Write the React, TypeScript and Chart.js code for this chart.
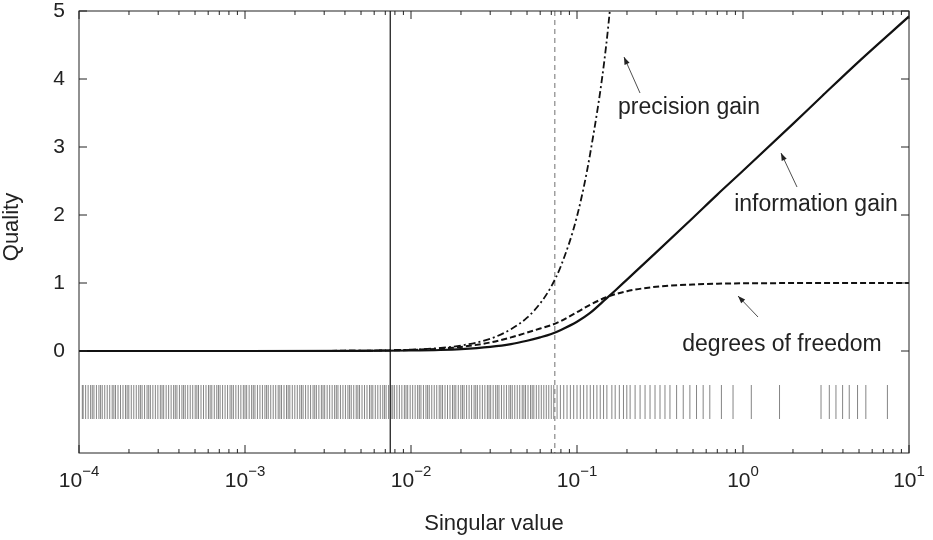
import React, { useEffect, useRef } from "react";
import { Chart, registerables } from "chart.js";
Chart.register(...registerables);

const sValues = [0.0001, 0.001, 0.005, 0.01, 0.015, 0.02, 0.03, 0.04, 0.05, 0.06, 0.07, 0.08, 0.1, 0.12, 0.15, 0.17, 0.2, 0.3, 0.5, 0.7, 1, 2, 3, 5, 10];
const infoGain = [0, 0, 0.002, 0.007, 0.015, 0.027, 0.06, 0.1, 0.15, 0.2, 0.25, 0.31, 0.43, 0.56, 0.77, 0.89, 1.05, 1.45, 1.96, 2.3, 2.65, 3.34, 3.75, 4.26, 4.92];
const dof = [0, 0.0002, 0.004, 0.016, 0.035, 0.06, 0.125, 0.2, 0.27, 0.33, 0.38, 0.44, 0.57, 0.68, 0.79, 0.835, 0.88, 0.945, 0.978, 0.99, 0.995, 0.999, 1, 1, 1];
const precisionGain = [0, 0.0002, 0.005, 0.02, 0.045, 0.08, 0.18, 0.32, 0.49, 0.7, 0.95, 1.25, 1.98, 2.9, 4.5, 5.9, 8.1];
const rugExponents = [
  -3.98, -3.96, -3.93, -3.91, -3.88, -3.86, -3.83, -3.8, -3.78, -3.75, -3.72, -3.7, -3.67, -3.64, -3.62, -3.59, -3.57, -3.54, -3.51, -3.49,
  -3.46, -3.43, -3.41, -3.38, -3.36, -3.33, -3.3, -3.28, -3.25, -3.22, -3.2, -3.17, -3.15, -3.12, -3.09, -3.07, -3.04, -3.01, -2.99, -2.96,
  -2.94, -2.91, -2.88, -2.86, -2.83, -2.8, -2.78, -2.75, -2.73, -2.7, -2.67, -2.65, -2.62, -2.59, -2.57, -2.54, -2.52, -2.49, -2.46, -2.44,
  -2.41, -2.38, -2.36, -2.33, -2.31, -2.28, -2.25, -2.23, -2.2, -2.17, -2.15, -2.12, -2.1, -2.07, -2.04, -2.02, -1.99, -1.96, -1.94, -1.91,
  -1.89, -1.86, -1.83, -1.81, -1.78, -1.75, -1.73, -1.7, -1.68, -1.65, -1.62, -1.6, -1.57, -1.54, -1.52, -1.49, -1.47, -1.44, -1.41, -1.39,
  -1.36, -1.33, -1.31, -1.28, -1.26, -1.23, -1.2, -1.17, -1.14, -1.1, -1.06, -1.02, -0.98, -0.94, -0.9, -0.86, -0.82, -0.77, -0.72, -0.68,
  -0.62, -0.56, -0.5, -0.44, -0.36, -0.28, -0.2, -0.06, 0.05, 0.22, 0.47, 0.52, 0.56, 0.6, 0.64, 0.69, 0.74, 0.87,
];
const rugExponentsExtra = [
  -3.975, -3.945, -3.92, -3.895, -3.87, -3.845, -3.815, -3.79, -3.765, -3.735, -3.71, -3.685, -3.655, -3.63, -3.605, -3.58, -3.555, -3.525, -3.5, -3.475,
  -3.445, -3.42, -3.395, -3.37, -3.345, -3.315, -3.29, -3.265, -3.235, -3.21, -3.185, -3.16, -3.135, -3.105, -3.08, -3.055, -3.025, -3.0, -2.975, -2.95,
  -2.925, -2.895, -2.87, -2.845, -2.815, -2.79, -2.765, -2.74, -2.715, -2.685, -2.66, -2.635, -2.605, -2.58, -2.555, -2.53, -2.505, -2.475, -2.45, -2.425,
  -2.395, -2.37, -2.345, -2.32, -2.295, -2.265, -2.24, -2.215, -2.185, -2.16, -2.135, -2.11, -2.085, -2.055, -2.03, -2.005, -1.975, -1.95, -1.925, -1.9,
  -1.875, -1.845, -1.82, -1.795, -1.765, -1.74, -1.715, -1.69, -1.665, -1.635, -1.61, -1.585, -1.555, -1.53, -1.505, -1.48, -1.455, -1.425, -1.4, -1.375,
  -1.345, -1.32, -1.295, -1.27, -1.245, -1.215, -1.185, -1.155, -1.12, -1.08, -1.04, -1.0, -0.96, -0.92, -0.88, -0.84, -0.79, -0.745, -0.7, -0.65,
  -0.59, -0.53, -0.47, -0.4, -0.32, -0.24, -0.13,
];
const yTicks = [0, 1, 2, 3, 4, 5];
const xDecades = [-4, -3, -2, -1, 0, 1];
const solidLineX = 0.0075;
const dashedLineX = 0.0735;

export default function App() {
  const ref = useRef<HTMLCanvasElement>(null);
  useEffect(() => {
    const font = "'Liberation Sans', Arial, sans-serif";
    const overlay = {
      id: "overlay",
      beforeDatasetsDraw(chart: any) {
        const { ctx, scales } = chart;
        const xs = scales.x, ys = scales.y;
        ctx.save();
        ctx.strokeStyle = "#666";
        ctx.lineWidth = 0.8;
        const y1 = ys.getPixelForValue(-0.5), y2 = ys.getPixelForValue(-1.0);
        for (const e of [...rugExponents, ...rugExponentsExtra]) {
          const px = xs.getPixelForValue(Math.pow(10, e));
          ctx.beginPath(); ctx.moveTo(px, y1); ctx.lineTo(px, y2); ctx.stroke();
        }
        const top = ys.getPixelForValue(5), bot = ys.getPixelForValue(-1.5);
        ctx.strokeStyle = "#222"; ctx.lineWidth = 1.3;
        let px = xs.getPixelForValue(solidLineX);
        ctx.beginPath(); ctx.moveTo(px, top); ctx.lineTo(px, bot); ctx.stroke();
        ctx.strokeStyle = "#888"; ctx.lineWidth = 1.2; ctx.setLineDash([5, 4]);
        px = xs.getPixelForValue(dashedLineX);
        ctx.beginPath(); ctx.moveTo(px, top); ctx.lineTo(px, bot); ctx.stroke();
        ctx.restore();
      },
      afterDatasetsDraw(chart: any) {
        const { ctx, scales, chartArea: a } = chart;
        const xs = scales.x, ys = scales.y;
        ctx.save();
        ctx.strokeStyle = "#222"; ctx.lineWidth = 1;
        ctx.strokeRect(a.left, a.top, a.right - a.left, a.bottom - a.top);
        ctx.fillStyle = "#222";
        ctx.font = `21px ${font}`;
        ctx.textAlign = "right"; ctx.textBaseline = "middle";
        for (const t of yTicks) {
          const py = ys.getPixelForValue(t);
          ctx.beginPath(); ctx.moveTo(a.left, py); ctx.lineTo(a.left + 8, py);
          ctx.moveTo(a.right, py); ctx.lineTo(a.right - 8, py); ctx.stroke();
          ctx.fillText(String(t), a.left - 14, py);
        }
        for (const d of xDecades) {
          const px = xs.getPixelForValue(Math.pow(10, d));
          ctx.beginPath(); ctx.moveTo(px, a.bottom); ctx.lineTo(px, a.bottom - 8);
          ctx.moveTo(px, a.top); ctx.lineTo(px, a.top + 8); ctx.stroke();
          if (d < 1) {
            for (let m = 2; m < 10; m++) {
              const mx = xs.getPixelForValue(m * Math.pow(10, d));
              ctx.beginPath(); ctx.moveTo(mx, a.bottom); ctx.lineTo(mx, a.bottom - 4);
              ctx.moveTo(mx, a.top); ctx.lineTo(mx, a.top + 4); ctx.stroke();
            }
          }
          ctx.font = `21px ${font}`;
          const base = "10";
          const sup = d < 0 ? "\u2212" + Math.abs(d) : String(d);
          const bw = ctx.measureText(base).width;
          ctx.font = `15px ${font}`;
          const sw = ctx.measureText(sup).width;
          const start = px - (bw + sw) / 2;
          ctx.textAlign = "left"; ctx.textBaseline = "alphabetic";
          ctx.font = `21px ${font}`;
          ctx.fillText(base, start, a.bottom + 34);
          ctx.font = `15px ${font}`;
          ctx.fillText(sup, start + bw, a.bottom + 23);
        }
        ctx.font = `22px ${font}`;
        ctx.textAlign = "center"; ctx.textBaseline = "middle";
        ctx.fillText("Singular value", (a.left + a.right) / 2, 524);
        ctx.save();
        ctx.translate(12, (a.top + a.bottom) / 2 - 5);
        ctx.rotate(-Math.PI / 2);
        ctx.fillText("Quality", 0, 0);
        ctx.restore();
        ctx.font = `23px ${font}`;
        const label = (text: string, cx: number, cy: number, ax1: number, ay1: number, ax2: number, ay2: number) => {
          const tw = ctx.measureText(text).width;
          ctx.fillStyle = "#fff";
          ctx.fillRect(cx - tw / 2 - 3, cy - 13, tw + 6, 26);
          ctx.fillStyle = "#222";
          ctx.fillText(text, cx, cy);
          ctx.lineWidth = 0.8;
          ctx.beginPath(); ctx.moveTo(ax1, ay1); ctx.lineTo(ax2, ay2); ctx.stroke();
          const ang = Math.atan2(ay2 - ay1, ax2 - ax1);
          ctx.beginPath();
          ctx.moveTo(ax2, ay2);
          ctx.lineTo(ax2 - 8 * Math.cos(ang - 0.35), ay2 - 8 * Math.sin(ang - 0.35));
          ctx.lineTo(ax2 - 8 * Math.cos(ang + 0.35), ay2 - 8 * Math.sin(ang + 0.35));
          ctx.closePath(); ctx.fill();
        };
        label("precision gain", 689, 108, 640, 93, 624, 57);
        label("information gain", 816, 205, 797, 187, 781, 153);
        label("degrees of freedom", 782, 345, 758, 317, 738, 296);
        ctx.restore();
      },
    };
    const mk = (ys: number[]) => ys.map((y, i) => ({ x: sValues[i], y }));
    const chart = new Chart(ref.current!, {
      type: "line",
      data: {
        datasets: [
          { data: mk(infoGain), borderColor: "#111", borderWidth: 2.2, pointRadius: 0, cubicInterpolationMode: "monotone" },
          { data: mk(dof), borderColor: "#111", borderWidth: 2, borderDash: [6, 3], pointRadius: 0, cubicInterpolationMode: "monotone" },
          { data: mk(precisionGain), borderColor: "#111", borderWidth: 1.8, borderDash: [7, 3, 2, 3], pointRadius: 0, cubicInterpolationMode: "monotone" },
        ],
      },
      options: {
        animation: false,
        responsive: false,
        layout: { padding: { left: 79, right: 24, top: 11, bottom: 87 } },
        plugins: { legend: { display: false }, tooltip: { enabled: false } },
        scales: {
          x: { type: "logarithmic", min: 0.0001, max: 10, display: false },
          y: { type: "linear", min: -1.5, max: 5, display: false },
        },
      },
      plugins: [overlay],
    });
    return () => chart.destroy();
  }, []);
  return (
    <div style={{ position: "absolute", left: 0, top: 0, background: "#fff" }}>
      <canvas ref={ref} width={933} height={540} style={{ width: 933, height: 540, display: "block" }} />
    </div>
  );
}
